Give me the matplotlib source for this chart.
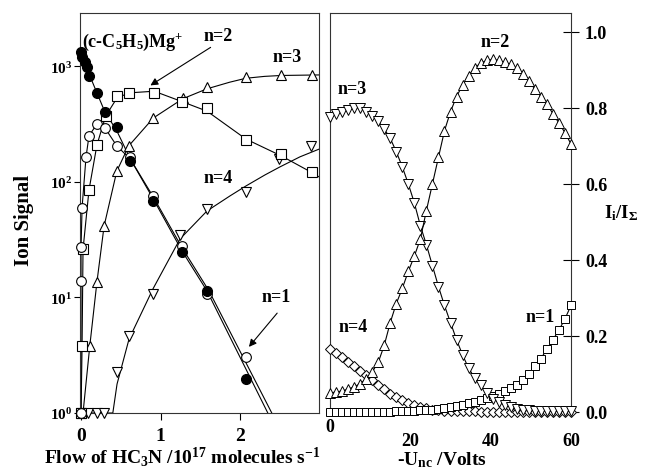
import matplotlib
matplotlib.use('Agg')
import matplotlib.pyplot as plt
from matplotlib.ticker import NullLocator

plt.rcParams['font.family'] = 'Liberation Serif'
plt.rcParams['font.weight'] = 'bold'
plt.rcParams['mathtext.fontset'] = 'custom'
plt.rcParams['mathtext.rm'] = 'Liberation Serif:bold'
plt.rcParams['mathtext.it'] = 'Liberation Serif:bold'
plt.rcParams['mathtext.bf'] = 'Liberation Serif:bold'
plt.rcParams['mathtext.default'] = 'rm'

# ---- left panel: ion signal vs HC3N flow ----
flow_mg = [0.0, 0.013, 0.05, 0.075, 0.10, 0.20, 0.30, 0.45, 0.62, 0.91, 1.27, 1.585, 2.075]
sig_mg = [1340, 1210, 1090, 990, 830, 590, 404, 299, 152, 68, 24.8, 11.4, 1.97]

flow_n1 = [0.0, 0.0, 0.0, 0.013, 0.063, 0.10, 0.20, 0.30, 0.45, 0.62, 0.91, 1.27, 1.585, 2.075]
sig_n1 = [1.0, 13.9, 27.4, 59.6, 165, 250, 318, 294, 205, 165, 75.6, 27.9, 10.7, 3.05]

flow_n2 = [0.0, 0.013, 0.025, 0.10, 0.20, 0.31, 0.45, 0.60, 0.92, 1.27, 1.585, 2.075, 2.52, 2.91]
sig_n2 = [1.0, 3.8, 26.3, 85, 209, 372, 556, 590, 590, 493, 438, 231, 175, 122]

flow_n3 = [0.0, 0.11, 0.20, 0.29, 0.45, 0.60, 0.91, 1.28, 1.585, 2.075, 2.52, 2.91]
sig_n3 = [1.0, 3.8, 13.6, 41.5, 124, 205, 358, 533, 665, 811, 844, 844]

flow_n4 = [0.0, 0.09, 0.20, 0.29, 0.45, 0.60, 0.91, 1.25, 1.585, 2.075, 2.49, 2.89]
sig_n4 = [1, 1, 1, 1, 2.26, 4.6, 10.7, 34.8, 58.4, 82, 158, 205]

# fitted curves
fit_mg_x = [0.0, 0.075, 0.20, 0.30, 0.45, 0.62, 0.91, 1.27, 1.585, 2.35, 2.40]
fit_mg_y = [1450, 951, 590, 404, 277, 158, 71, 25.3, 11.4, 1.0, 0.85]
fit_n1_x = [0.0, 0.0, 0.0, 0.013, 0.063, 0.10, 0.20, 0.30, 0.45, 0.62, 0.91, 1.27, 1.61, 2.40, 2.45]
fit_n1_y = [1.0, 13.9, 27.0, 60, 165, 250, 318, 294, 205, 158, 74, 27, 11.4, 1.0, 0.85]
fit_n2_x = [0.0, 0.013, 0.025, 0.10, 0.20, 0.31, 0.45, 0.60, 0.92, 1.28, 1.585, 2.075, 2.52, 2.91, 3.0]
fit_n2_y = [1.0, 3.8, 26, 85, 209, 372, 530, 590, 610, 493, 410, 235, 168, 120, 110]
fit_n3_x = [0.025, 0.11, 0.20, 0.29, 0.45, 0.60, 0.91, 1.28, 1.585, 1.87, 2.075, 2.31, 2.52, 3.0]
fit_n3_y = [1.0, 3.8, 13.6, 41.5, 124, 205, 358, 525, 640, 730, 790, 820, 835, 844]
fit_n4_x = [0.0, 0.40, 0.453, 0.604, 0.906, 1.245, 1.585, 1.874, 2.075, 2.314, 2.503, 2.755, 3.0]
fit_n4_y = [1.0, 1.0, 1.78, 4.37, 11.9, 32.1, 56.1, 75.7, 92.3, 115, 135, 165, 193]

# ---- right panel: ion fractions vs nozzle-skimmer voltage ----
volts = [0, 1.5, 3, 4.5, 6, 7.5, 9, 10.5, 12, 13.5,
         15, 16.5, 18, 19.5, 21, 22.5, 24, 25.5, 27, 28.5,
         30, 31.5, 33, 34.5, 36, 37.5, 39, 40.5, 42, 43.5,
         45, 46.5, 48, 49.5, 51, 52.5, 54, 55.5, 57, 58.5,
         60]
frac_n1 = [0.000, 0.000, 0.000, 0.000, 0.000, 0.000, 0.000, 0.000, 0.000, 0.000,
           0.000, 0.001, 0.001, 0.002, 0.003, 0.004, 0.005, 0.006, 0.008, 0.010,
           0.013, 0.016, 0.019, 0.023, 0.027, 0.031, 0.036, 0.041, 0.047, 0.054,
           0.062, 0.072, 0.085, 0.100, 0.120, 0.140, 0.165, 0.190, 0.215, 0.245,
           0.280]
frac_n2 = [0.050, 0.052, 0.055, 0.060, 0.066, 0.074, 0.087, 0.105, 0.130, 0.175,
           0.235, 0.285, 0.325, 0.370, 0.410, 0.455, 0.530, 0.600, 0.670, 0.740,
           0.790, 0.830, 0.860, 0.885, 0.905, 0.918, 0.925, 0.928, 0.925, 0.920,
           0.915, 0.905, 0.890, 0.870, 0.850, 0.830, 0.810, 0.785, 0.760, 0.735,
           0.705]
frac_n3 = [0.775, 0.785, 0.790, 0.795, 0.800, 0.800, 0.790, 0.780, 0.765, 0.745,
           0.720, 0.685, 0.645, 0.600, 0.550, 0.490, 0.440, 0.385, 0.330, 0.280,
           0.235, 0.190, 0.150, 0.115, 0.090, 0.070, 0.050, 0.035, 0.025, 0.018,
           0.012, 0.008, 0.006, 0.004, 0.003, 0.002, 0.002, 0.001, 0.001, 0.001,
           0.001]
frac_n4 = [0.165, 0.155, 0.145, 0.132, 0.120, 0.108, 0.096, 0.083, 0.071, 0.060,
           0.048, 0.038, 0.030, 0.024, 0.018, 0.013, 0.009, 0.006, 0.004, 0.003,
           0.002, 0.002, 0.001, 0.001, 0.001, 0.000, 0.000, 0.000, 0.000, 0.000,
           0.000, 0.000, 0.000, 0.000, 0.000, 0.000, 0.000, 0.000, 0.000, 0.000,
           0.000]

W, H = 647, 477
fig = plt.figure(figsize=(W / 100, H / 100), dpi=100)
ax1 = fig.add_axes([80 / W, 63 / H, 239 / W, 400 / H])
ax2 = fig.add_axes([330 / W, 63 / H, 241 / W, 400 / H])

mk = dict(mfc='white', mec='black', mew=0.8, ls='none', clip_on=False, zorder=3)
lw = 0.8

# left panel
ax1.set_yscale('log')
for fx, fy in [(fit_mg_x, fit_mg_y), (fit_n1_x, fit_n1_y), (fit_n2_x, fit_n2_y),
               (fit_n3_x, fit_n3_y), (fit_n4_x, fit_n4_y)]:
    ax1.plot(fx, fy, color='black', lw=lw, zorder=2)
ax1.plot(flow_n4, sig_n4, marker='v', ms=7, **mk)
ax1.plot(flow_n3, sig_n3, marker='^', ms=7, **mk)
ax1.plot(flow_n2, sig_n2, marker='s', ms=6.5, **mk)
ax1.plot(flow_n1, sig_n1, marker='o', ms=7, **mk)
ax1.plot(flow_mg, sig_mg, marker='o', ms=7, mfc='black', mec='black', ls='none',
         clip_on=False, zorder=4)

ax1.set_xlim(-0.013, 2.994)
ax1.set_ylim(1.0, 2900)
ax1.set_xticks([0, 1, 2])
ax1.yaxis.set_minor_locator(NullLocator())
ax1.tick_params(axis='x', direction='out', length=5, width=0.8, pad=5, labelsize=14)
ax1.tick_params(axis='y', direction='out', length=4, width=0.8, pad=1.5, labelsize=11)

ax1.text(0.013, 1660, r'(c-C$_5$H$_5$)Mg$^{+}$', fontsize=13, ha='left', va='center')
ax1.text(1.72, 1837, 'n=2', fontsize=13, ha='center', va='center')
ax1.annotate('', xy=(0.843, 665), xytext=(1.66, 1506),
             arrowprops=dict(arrowstyle='-|>', color='black', lw=0.8, mutation_scale=11))
ax1.text(2.60, 1208, 'n=3', fontsize=13, ha='center', va='center')
ax1.text(1.72, 110, 'n=4', fontsize=13, ha='center', va='center')
ax1.text(2.45, 10.1, 'n=1', fontsize=13, ha='center', va='center')
ax1.annotate('', xy=(2.09, 3.58), xytext=(2.49, 7.64),
             arrowprops=dict(arrowstyle='-|>', color='black', lw=0.8, mutation_scale=11))

# right panel
ax2.plot(volts, frac_n4, color='black', lw=lw, marker='D', ms=5, mfc='white', mec='black',
         mew=0.7, clip_on=False, zorder=3)
ax2.plot(volts, frac_n1, color='black', lw=lw, marker='s', ms=5.5, mfc='white', mec='black',
         mew=0.7, clip_on=False, zorder=3)
ax2.plot(volts, frac_n3, color='black', lw=lw, marker='v', ms=6.5, mfc='white', mec='black',
         mew=0.7, clip_on=False, zorder=3)
ax2.plot(volts, frac_n2, color='black', lw=lw, marker='^', ms=6.5, mfc='white', mec='black',
         mew=0.7, clip_on=False, zorder=3)

ax2.set_xlim(0, 60)
ax2.set_ylim(-0.003, 1.05)
ax2.yaxis.tick_right()
ax2.set_yticks([0.0, 0.2, 0.4, 0.6, 0.8, 1.0])
ax2.set_yticklabels(['0.0', '0.2', '0.4', '0.6', '0.8', '1.0'])
ax2.set_xticks([0, 20, 40, 60], ['', '20', '40', '60'])
ax2.tick_params(axis='y', direction='inout', length=12, width=0.8, pad=4, labelsize=13)
ax2.tick_params(axis='x', length=0, pad=14, labelsize=13)
ax2.text(0, -0.035, '0', transform=ax2.get_xaxis_transform(), fontsize=13,
         ha='center', va='center')

ax2.text(41.1, 0.974, 'n=2', fontsize=13, ha='center', va='center')
ax2.text(5.5, 0.85, 'n=3', fontsize=13, ha='center', va='center')
ax2.text(5.7, 0.226, 'n=4', fontsize=13, ha='center', va='center')
ax2.text(52.3, 0.25, 'n=1', fontsize=13, ha='center', va='center')

for ax in (ax1, ax2):
    for s in ax.spines.values():
        s.set_color('#333333')
        s.set_linewidth(0.8)

fig.text(24 / W, 1 - 220 / H, 'Ion Signal', rotation=90, fontsize=15, ha='center', va='center')
fig.text(182 / W, 1 - 457 / H, r'Flow of HC$_3$N /10$^{17}$ molecules s$^{-1}$',
         fontsize=14, ha='center', va='center')
fig.text(442 / W, 1 - 460 / H, r'-U$_{nc}$ /Volts', fontsize=14, ha='center', va='center')
fig.text(621 / W, 1 - 213 / H, r'I$_i$/I$_\Sigma$', fontsize=13.5, ha='center', va='center')

fig.savefig('out.png', dpi=100)
